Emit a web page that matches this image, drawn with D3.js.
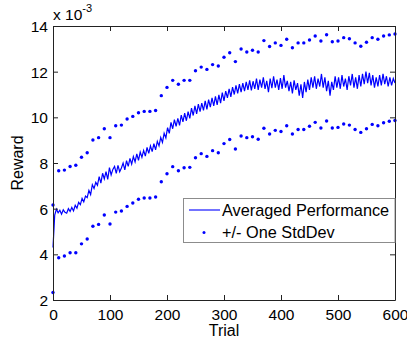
<!DOCTYPE html>
<html><head><meta charset="utf-8">
<script src="https://cdn.jsdelivr.net/npm/d3@7"></script>
<style>body{margin:0;background:#fff}svg{display:block}text{font-family:"Liberation Sans",Arial,sans-serif}</style>
</head><body><svg id="c" width="407" height="341"></svg>
<script>
// values in units of 1e-3
const meanTrials = d3.range(0, 601, 3);
const meanValues = [
4.30,5.72,5.98,5.82,5.93,5.76,5.95,5.84,5.80,6.00,
5.88,6.05,5.90,6.15,6.02,6.28,6.18,6.45,6.30,6.55,
6.48,6.80,6.62,7.05,6.88,7.15,7.02,7.40,7.12,7.55,
7.30,7.62,7.28,7.80,7.48,7.72,7.85,7.55,7.90,7.62,
7.78,8.00,7.70,8.10,7.85,8.20,7.95,8.28,8.05,8.40,
8.12,8.48,8.25,8.55,8.30,8.68,8.42,8.75,8.50,8.85,
8.58,8.95,8.75,9.12,8.90,9.30,9.10,9.55,9.30,9.78,
9.50,9.90,9.60,9.95,9.65,10.10,9.80,10.18,9.85,10.25,
9.95,10.40,10.08,10.50,10.15,10.58,10.25,10.62,10.30,10.72,
10.35,10.78,10.45,10.85,10.50,10.92,10.55,10.98,10.62,11.08,
10.72,11.15,10.85,11.25,10.90,11.32,11.00,11.40,11.05,11.45,
11.10,11.50,11.15,11.55,11.20,11.62,11.18,11.58,11.25,11.70,
11.20,11.65,11.30,11.75,11.25,11.60,11.10,11.70,11.28,11.80,
11.30,11.65,11.20,11.72,11.25,11.85,11.30,11.60,11.15,11.55,
11.05,11.62,11.20,11.50,10.95,11.45,10.85,11.55,11.10,11.65,
11.20,11.75,11.30,11.80,11.25,11.70,11.35,11.90,11.30,11.75,
11.15,11.60,10.95,11.55,11.20,11.80,11.30,11.75,11.25,11.85,
11.35,11.70,11.20,11.80,11.40,11.90,11.30,11.75,11.25,11.85,
11.35,11.90,11.45,12.00,11.50,11.95,11.40,11.85,11.30,11.75,
11.35,11.85,11.40,11.90,11.45,11.80,11.35,11.75,11.40,11.70,
11.50];
const stdTrials = d3.range(0, 601, 10);
const upperValues = [6.16,7.66,7.69,7.85,7.90,8.25,8.45,9.01,9.11,9.50,9.11,9.63,9.66,9.93,10.04,10.20,10.26,10.26,10.30,10.95,
11.31,11.62,11.45,11.62,11.62,12.04,12.20,12.10,12.31,12.25,12.63,12.83,12.44,12.99,12.86,12.94,12.86,13.36,13.10,13.26,
13.15,13.42,13.05,13.26,13.26,13.39,13.56,13.34,13.62,13.31,13.34,13.49,13.44,13.26,13.11,13.29,13.49,13.42,13.56,13.61,13.65];
const lowerValues = [2.33,3.85,3.93,4.07,4.07,4.46,4.67,5.23,5.31,5.72,5.33,5.85,5.90,6.10,6.25,6.41,6.47,6.47,6.51,7.18,
7.53,7.84,7.66,7.79,7.81,8.23,8.41,8.29,8.54,8.45,8.85,9.03,8.61,9.18,9.11,9.15,9.04,9.52,9.27,9.43,
9.38,9.63,9.27,9.47,9.47,9.61,9.78,9.53,9.84,9.53,9.56,9.71,9.66,9.47,9.34,9.50,9.69,9.63,9.76,9.83,9.86];
const xTicks = [0,100,200,300,400,500,600];
const yTicks = [2,4,6,8,10,12,14];
const legendLabels = ["Averaged Performance", "+/- One StdDev"];

const svg = d3.select("#c");
const L = 53, R = 395, T = 26, B = 300;
const x = d3.scaleLinear().domain([0, 600]).range([L, R]);
const y = d3.scaleLinear().domain([2, 14]).range([B, T]);
const blue = "#0000ff", axc = "#222";

svg.append("rect").attr("x", L).attr("y", T).attr("width", R - L).attr("height", B - T).attr("fill", "#fff");

// data
const line = d3.line().x((d, i) => x(meanTrials[i])).y(d => y(d));
svg.append("path").datum(meanValues).attr("d", line).attr("fill", "none").attr("stroke", blue).attr("stroke-width", 1.2);
const dots = svg.append("g").attr("fill", blue);
[upperValues, lowerValues].forEach(arr => {
  dots.selectAll(null).data(arr).enter().append("circle")
    .attr("cx", (d, i) => x(stdTrials[i])).attr("cy", d => y(d)).attr("r", 1.7);
});

// axes
const fs = "15.5px";
const gx = svg.append("g").attr("transform", `translate(0,${B})`)
  .call(d3.axisBottom(x).tickValues(xTicks).tickSizeInner(-5).tickSizeOuter(0).tickPadding(9));
const gx2 = svg.append("g").attr("transform", `translate(0,${T})`)
  .call(d3.axisTop(x).tickValues(xTicks).tickSizeInner(-5).tickSizeOuter(0).tickFormat(""));
const gy = svg.append("g").attr("transform", `translate(${L},0)`)
  .call(d3.axisLeft(y).tickValues(yTicks).tickSizeInner(-5).tickSizeOuter(0).tickPadding(5));
const gy2 = svg.append("g").attr("transform", `translate(${R},0)`)
  .call(d3.axisRight(y).tickValues(yTicks).tickSizeInner(-5).tickSizeOuter(0).tickFormat(""));
[gx, gx2, gy, gy2].forEach(g => {
  g.select(".domain").attr("stroke", axc);
  g.selectAll(".tick line").attr("stroke", axc);
  g.selectAll("text").attr("font-size", fs).attr("fill", "#000").attr("font-family", '"Liberation Sans",Arial,sans-serif');
});
gy.selectAll("text").attr("dy", "0.35em");

// exponent label
const ex = svg.append("text").attr("x", 53).attr("y", 20).attr("font-size", "15.5px").attr("fill", "#000");
ex.append("tspan").text("x 10");
ex.append("tspan").attr("font-size", "11px").attr("dy", "-8").text("-3");

// axis labels
svg.append("text").attr("x", (L + R) / 2).attr("y", 336).attr("text-anchor", "middle")
  .attr("font-size", "16px").text("Trial");
svg.append("text").attr("transform", `translate(23,${(T + B) / 2}) rotate(-90)`).attr("text-anchor", "middle")
  .attr("font-size", "16px").text("Reward");

// legend
const lg = svg.append("g");
lg.append("rect").attr("x", 183.5).attr("y", 198.5).attr("width", R - 183.5).attr("height", 44)
  .attr("fill", "#fff").attr("stroke", "#8c8c8c");
lg.append("line").attr("x1", 189).attr("x2", 220).attr("y1", 210).attr("y2", 210).attr("stroke", blue).attr("stroke-width", 1.1);
lg.append("circle").attr("cx", 204).attr("cy", 232.5).attr("r", 1.5).attr("fill", blue);
lg.selectAll("text.l").data(legendLabels).enter().append("text")
  .attr("x", 222).attr("y", (d, i) => 216 + i * 22).attr("font-size", "16.3px").attr("fill", "#000").text(d => d);
</script></body></html>
